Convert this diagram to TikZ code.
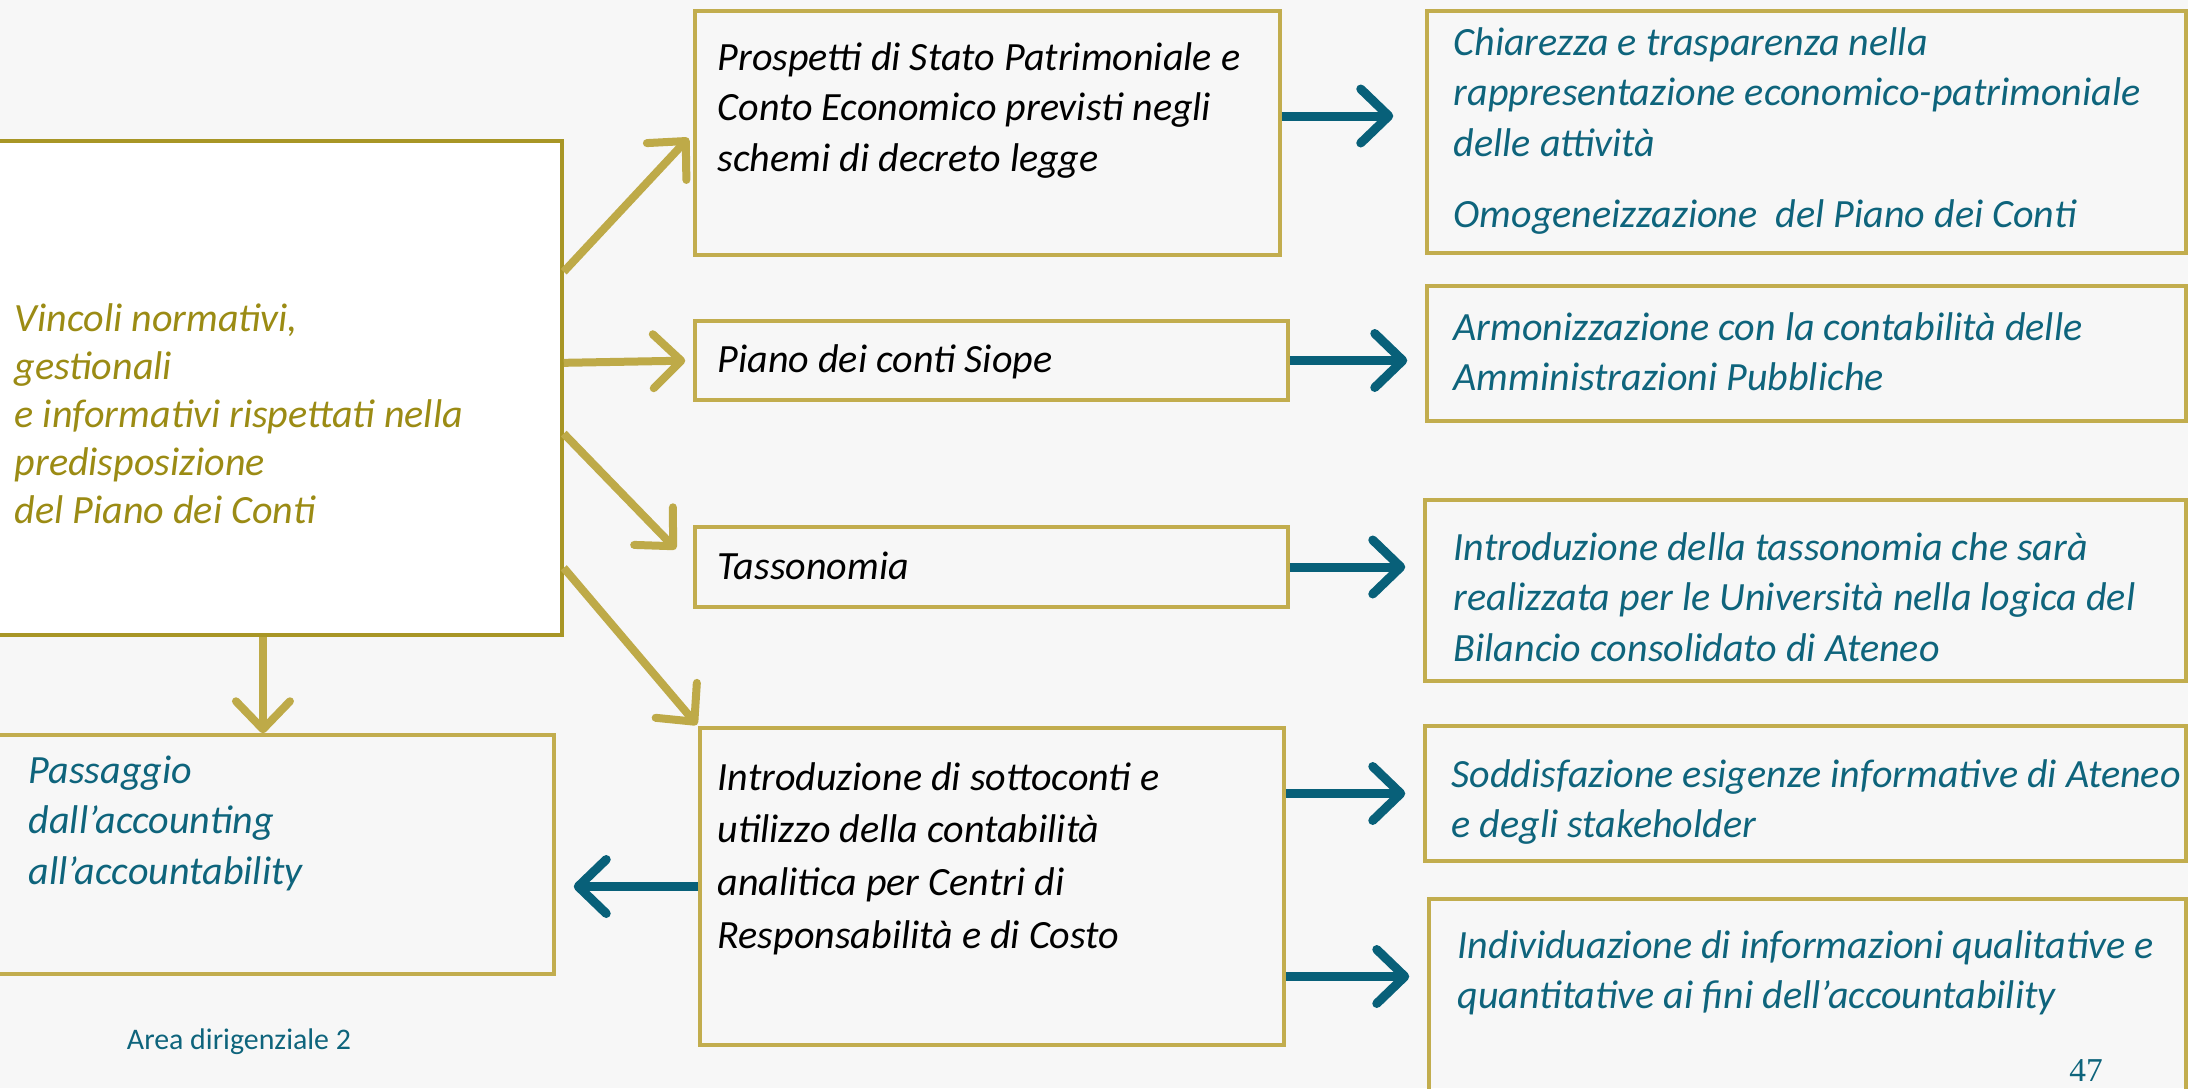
\documentclass[tikz,border=0pt]{standalone}
\usepackage{fontspec}
\setmainfont{Carlito}
\newfontfamily\pagefont{Liberation Serif}
\usetikzlibrary{arrows.meta, positioning}

\definecolor{goldline}{RGB}{194,173,78}
\definecolor{goldframe}{RGB}{168,150,38}
\definecolor{goldarrow}{RGB}{190,170,72}
\definecolor{goldtext}{RGB}{155,139,20}
\definecolor{tealarrow}{RGB}{8,96,121}
\definecolor{tealtext}{RGB}{14,100,124}
\definecolor{paper}{RGB}{247,247,247}

\begin{document}
\begin{tikzpicture}[
  % Boxes
  box/.style={rectangle, draw=goldline, line width=0.035cm, inner sep=0pt},
  mainbox/.style={box, draw=goldframe, fill=white},
  % Texts inside the boxes
  txt/.style={anchor=base west, inner sep=0pt, align=flush left, text width=6cm, font=\fontsize{11.4}{14.4}\selectfont\itshape},
  rtxt/.style={txt, text=tealtext, text width=7.6cm},
  % Arrows
  goldarr/.style={draw=goldarrow, line width=0.08cm, -{Straight Barb[length=0.28cm, width=0.54cm, round]}},
  outarr/.style={draw=tealarrow, line width=0.09cm, -{Straight Barb[length=0.28cm, width=0.54cm, round]}, shorten >=0.18cm}
]

% === Page ===
\fill[paper] (0,0) rectangle (21.88,-10.88);
\useasboundingbox (0,0) rectangle (21.88,-10.88);

% === LEFT: Constraints ===
\node[mainbox, minimum width=5.72cm, minimum height=4.94cm] (vinc) at (2.76,-3.88) {};
\node[txt, text=goldtext, font=\fontsize{11.4}{13.7}\selectfont\itshape] (vinct) at (0.14,-3.31)
  {Vincoli normativi,\\gestionali\\e informativi rispettati nella\\predisposizione\\del Piano dei Conti};

\node[box, minimum width=5.64cm, minimum height=2.39cm] (pass) at (2.72,-8.545) {};
\node[txt, text=tealtext] (passt) at (0.28,-7.83)
  {Passaggio\\dall’accounting\\all’accountability};

\node[font=\fontsize{8.5}{10}\selectfont, text=tealtext] (area) at (2.39,-10.42) {Area dirigenziale 2};

% === CENTRE: Instruments ===
\node[box, minimum width=5.85cm, minimum height=2.44cm] (prosp) at (9.875,-1.33) {};
\node[txt] (prospt) at (7.17,-0.70)
  {Prospetti di Stato Patrimoniale e\\Conto Economico previsti negli\\schemi di decreto legge};

\node[box, minimum width=5.93cm, minimum height=0.79cm] (piano) at (9.915,-3.605) {};
\node[txt] (pianot) at (7.17,-3.72) {Piano dei conti Siope};

\node[box, minimum width=5.93cm, minimum height=0.80cm] (tasso) at (9.915,-5.67) {};
\node[txt] (tassot) at (7.17,-5.79) {Tassonomia};

\node[box, minimum width=5.84cm, minimum height=3.17cm] (intro) at (9.92,-8.865) {};
\node[txt, font=\fontsize{11.4}{15}\selectfont\itshape] (introt) at (7.17,-7.90)
  {Introduzione di sottoconti e\\utilizzo della contabilità\\analitica per Centri di\\Responsabilità e di Costo};

% === RIGHT: Results ===
\node[box, minimum width=7.59cm, minimum height=2.42cm] (chiar) at (18.065,-1.32) {};
\node[rtxt] (chiart) at (14.53,-0.55)
  {Chiarezza e trasparenza nella\\rappresentazione economico-patrimoniale\\delle attività\\[0.21cm]Omogeneizzazione\ \ del Piano dei Conti};

\node[box, minimum width=7.59cm, minimum height=1.35cm] (armo) at (18.065,-3.535) {};
\node[rtxt] (armot) at (14.53,-3.40)
  {Armonizzazione con la contabilità delle\\Amministrazioni Pubbliche};

\node[box, minimum width=7.61cm, minimum height=1.81cm] (itas) at (18.055,-5.905) {};
\node[rtxt] (itast) at (14.53,-5.60)
  {Introduzione della tassonomia che sarà\\realizzata per le Università nella logica del\\Bilancio consolidato di Ateneo};

\node[box, minimum width=7.61cm, minimum height=1.35cm] (sodd) at (18.055,-7.935) {};
\node[rtxt] (soddt) at (14.51,-7.87)
  {Soddisfazione esigenze informative di Ateneo\\e degli stakeholder};

\node[box, minimum width=7.57cm, minimum height=2.11cm] (indiv) at (18.075,-10.045) {};
\node[rtxt] (indivt) at (14.57,-9.58)
  {Individuazione di informazioni qualitative e\\quantitative ai fini dell’accountability};

\node[font=\fontsize{9.5}{11}\selectfont\pagefont, text=tealtext] (pnum) at (20.86,-10.70) {47};

% === Gold arrows: constraints -> instruments ===
\draw[goldarr, shorten >=0.07cm] (vinc.22.8) -- (prosp.west);
\draw[goldarr, shorten >=0.08cm] (vinc.5.8) -- (piano.west);
\draw[goldarr, shorten >=0.25cm] (vinc.-9.7) -- (tasso.west);
\draw[goldarr, shorten >=0.02cm] (vinc.-32.3) -- (intro.north west);
\draw[goldarr] (vinc.267.1) -- (vinc.267.1 |- pass.north);

% === Teal arrows: instruments -> results ===
\coordinate (p1) at ([yshift=1.7mm]prosp.east);
\coordinate (i5) at ([yshift=-9mm]intro.east);
\draw[outarr, shorten >=0.32cm] (p1) -- (p1 -| chiar.west);
\draw[outarr] (piano.east) -- (piano.east -| armo.west);
\draw[outarr] (tasso.east) -- (tasso.east -| itas.west);
\draw[outarr] (intro.east |- sodd.west) -- (sodd.west);
\draw[outarr] (i5) -- (i5 -| indiv.west);
\draw[outarr] (intro.west) -- (intro.west -| pass.east);

\end{tikzpicture}
\end{document}
